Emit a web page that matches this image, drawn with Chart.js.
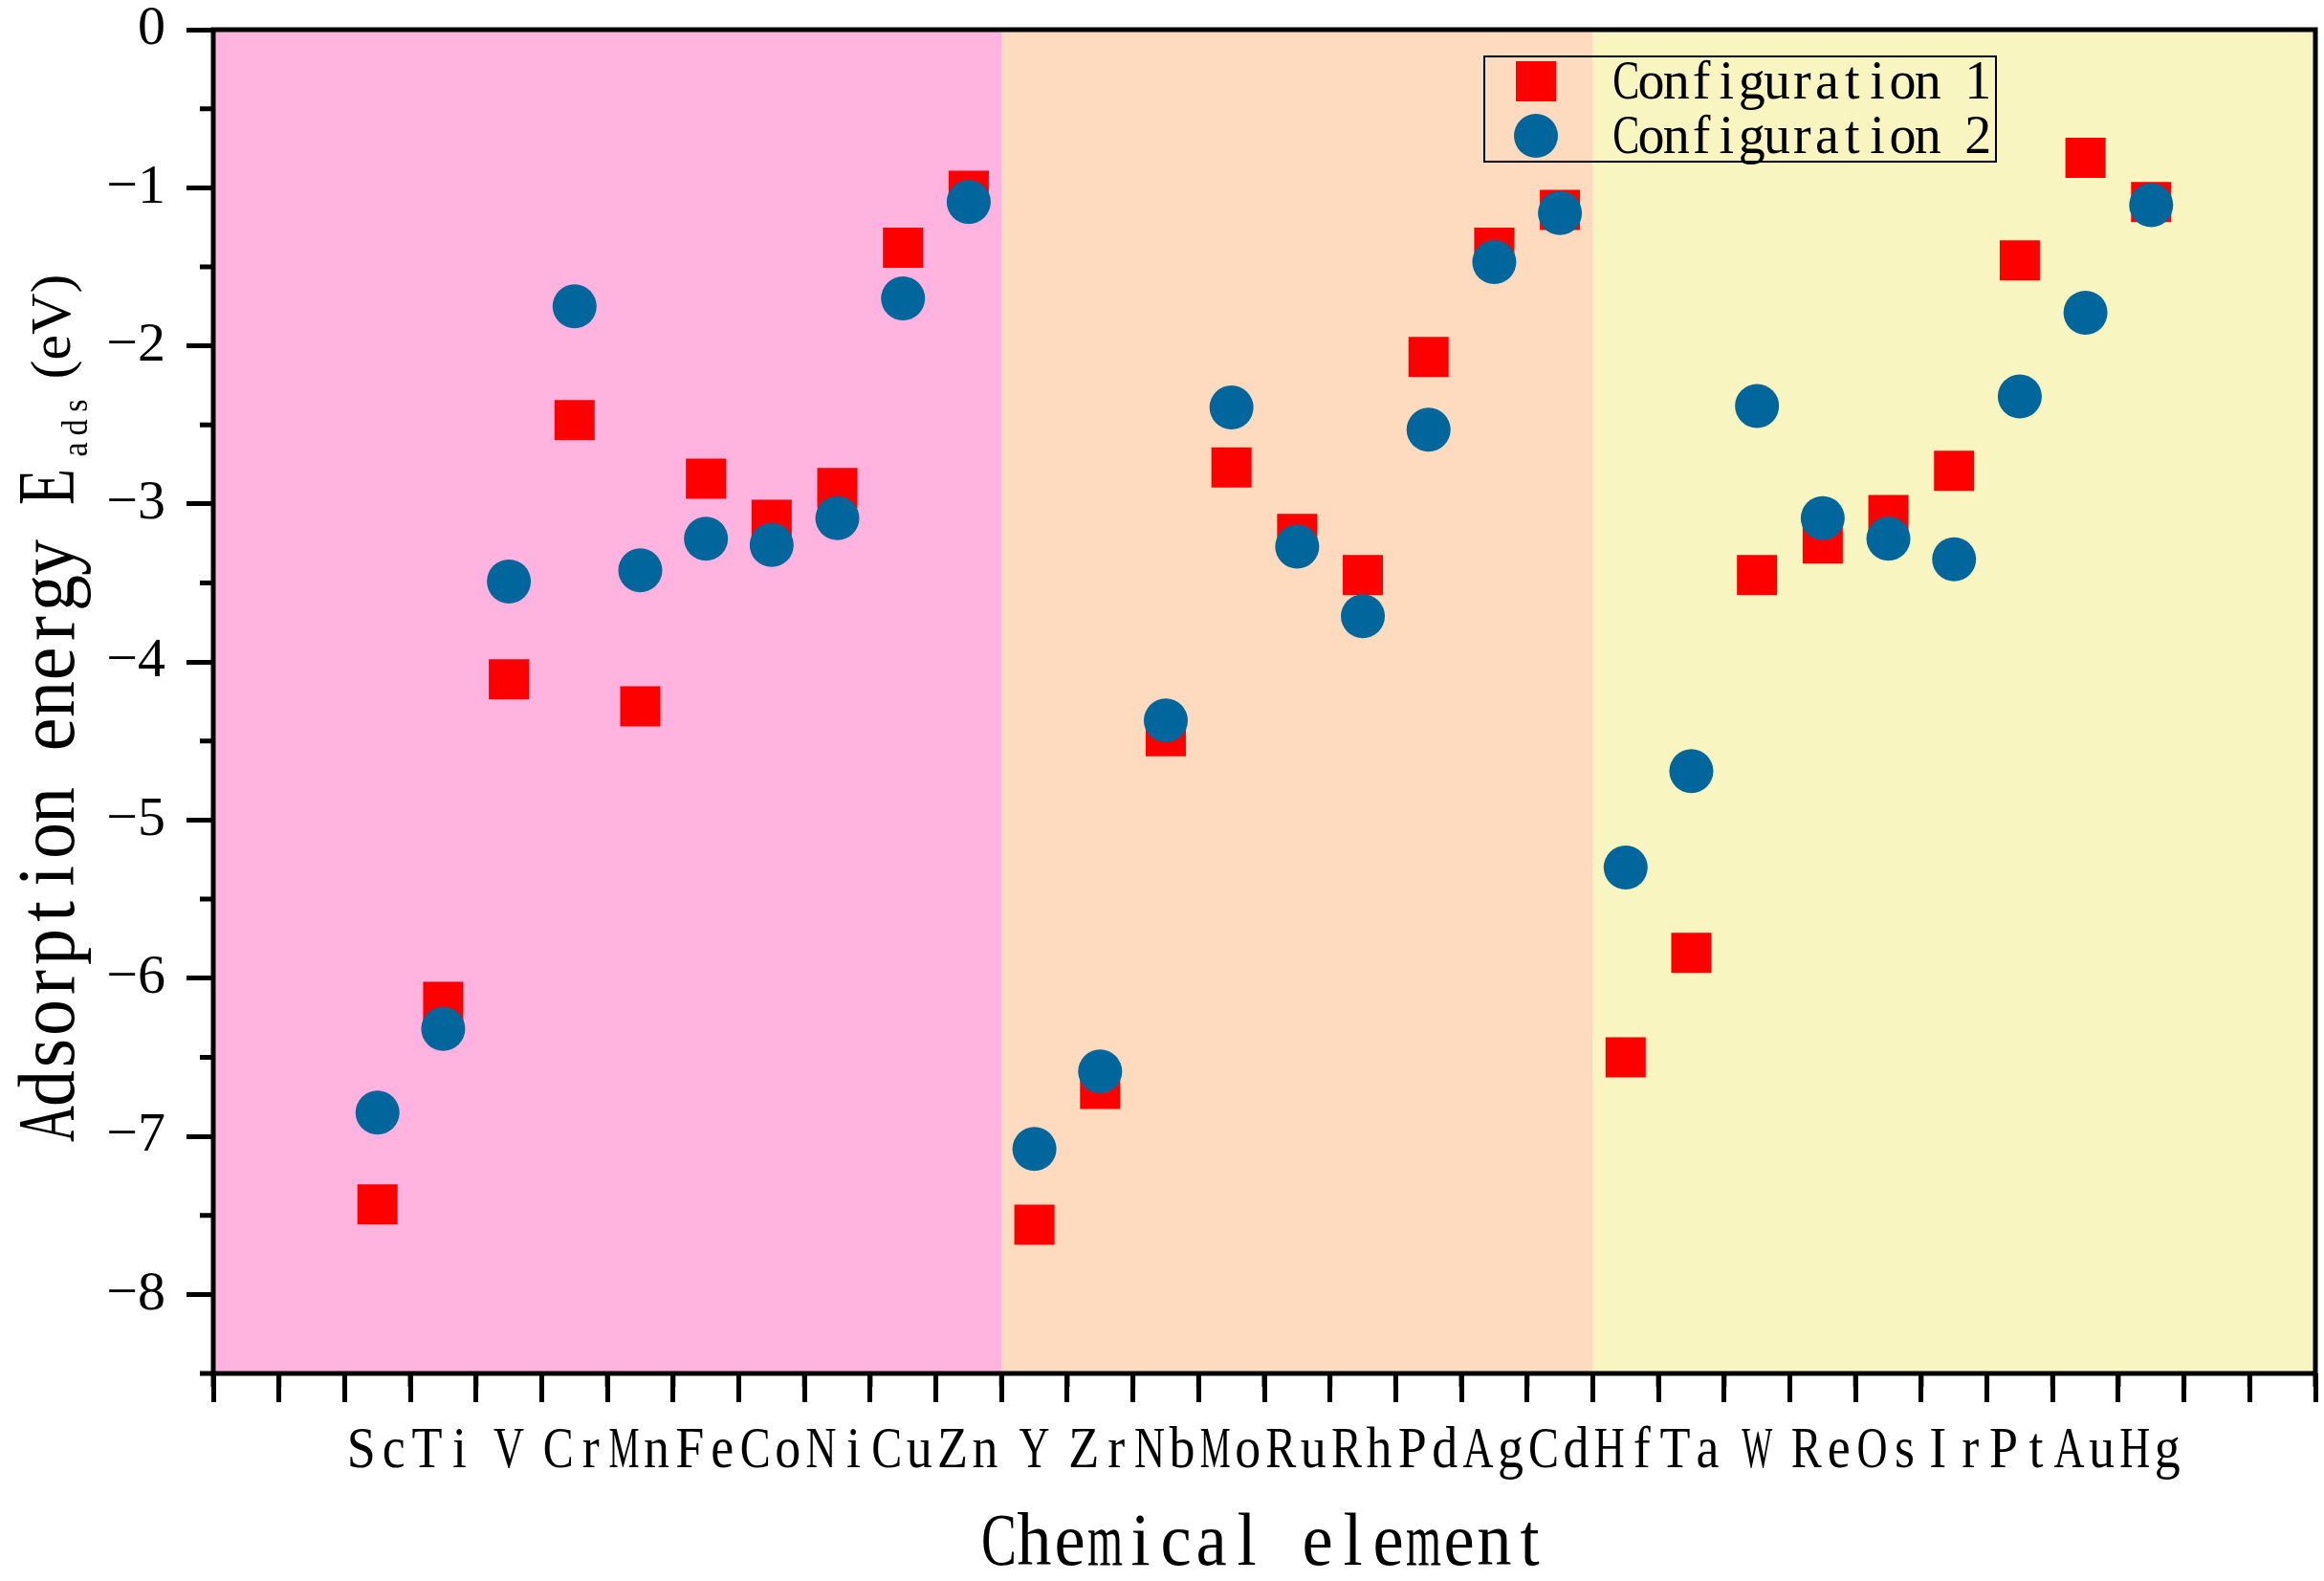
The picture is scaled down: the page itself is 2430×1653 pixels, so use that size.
<!DOCTYPE html>
<html>
<head>
<meta charset="utf-8">
<script src="https://cdn.jsdelivr.net/npm/chart.js@4.4.1/dist/chart.umd.min.js"></script>
<style>
  html, body { margin: 0; padding: 0; background: #fff; }
  #wrap { width: 2430px; height: 1653px; position: relative; }
</style>
</head>
<body>
<div id="wrap"><canvas id="chart"></canvas></div>
<script>
// element symbols along the x axis (index = x value)
const elements = ["Sc", "Ti", "V", "Cr", "Mn", "Fe", "Co", "Ni", "Cu", "Zn",
  "Y", "Zr", "Nb", "Mo", "Ru", "Rh", "Pd", "Ag", "Cd",
  "Hf", "Ta", "W", "Re", "Os", "Ir", "Pt", "Au", "Hg"];

// adsorption energies (eV)
const config1 = [-7.43, -6.15, -4.11, -2.47, -4.28, -2.84, -3.10, -2.90, -1.38, -1.02,
  -7.56, -6.70, -4.47, -2.77, -3.19, -3.45, -2.07, -1.38, -1.14,
  -6.50, -5.84, -3.45, -3.25, -3.07, -2.79, -1.46, -0.81, -1.09];
const config2 = [-6.85, -6.32, -3.49, -1.75, -3.42, -3.22, -3.26, -3.09, -1.70, -1.09,
  -7.08, -6.59, -4.37, -2.39, -3.27, -3.71, -2.53, -1.47, -1.16,
  -5.30, -4.69, -2.38, -3.09, -3.22, -3.35, -2.32, -1.79, -1.11];

const seriesNames = ["Configuration 1", "Configuration 2"];

// background bands (3d / 4d / 5d rows), edges in x units
const bandEdges = [-2.5, 9.5, 18.5, 29.5];
const bandColors = ["#FFB3DE", "#FEDBBE", "#F8F5C1"];

const xRange = [-2.5, 29.5];
const yRange = [-8.5, 0];

const SERIF = "'Liberation Serif', 'Times New Roman', serif";

// draw a string char by char in fixed cells (mimics the half-width CJK font)
function drawCells(ctx, text, x0, y, cell, sxMax, maxW) {
  for (let i = 0; i < text.length; i++) {
    const ch = text[i];
    if (ch === " ") continue;
    const w = ctx.measureText(ch).width;
    const sx = Math.min(sxMax, maxW / w);
    ctx.save();
    ctx.translate(x0 + (i + 0.5) * cell, y);
    ctx.scale(sx, 1);
    ctx.textAlign = "center";
    ctx.fillText(ch, 0, 0);
    ctx.restore();
  }
}

const decorPlugin = {
  id: "decor",
  beforeDatasetsDraw(chart) {
    const { ctx, chartArea: a, scales: { x } } = chart;
    ctx.save();
    for (let i = 0; i < bandColors.length; i++) {
      const x0 = x.getPixelForValue(bandEdges[i]);
      const x1 = x.getPixelForValue(bandEdges[i + 1]);
      ctx.fillStyle = bandColors[i];
      ctx.fillRect(x0, a.top, x1 - x0, a.bottom - a.top);
    }
    ctx.restore();
  },
  afterDraw(chart) {
    const { ctx, chartArea: a, scales: { x, y } } = chart;
    ctx.save();
    ctx.strokeStyle = "#000";
    ctx.lineWidth = 5;

    // minor ticks
    ctx.beginPath();
    for (let v = xRange[0]; v <= xRange[1]; v += 1) {
      const px = x.getPixelForValue(v);
      ctx.moveTo(px, a.bottom);
      ctx.lineTo(px, a.bottom + 14);
    }
    for (let v = yRange[1] - 0.5; v >= yRange[0]; v -= 1) {
      const py = y.getPixelForValue(v);
      ctx.moveTo(a.left, py);
      ctx.lineTo(a.left - 14, py);
    }
    ctx.stroke();

    // frame
    ctx.strokeRect(a.left, a.top, a.right - a.left, a.bottom - a.top);

    ctx.fillStyle = "#000";
    ctx.textBaseline = "alphabetic";

    // x tick labels
    ctx.font = "62px " + SERIF;
    elements.forEach((el, i) => {
      const cx = x.getPixelForValue(i);
      drawCells(ctx, el, cx - el.length * 17, a.bottom + 98, 34, 0.87, 32);
    });

    // x title
    ctx.font = "78px " + SERIF;
    const xt = "Chemical element";
    drawCells(ctx, xt, (a.left + a.right) / 2 - xt.length * 37 / 2, a.bottom + 200, 37, 0.93, 37);

    // y title, rotated, with subscript
    ctx.save();
    ctx.translate(77, (a.top + a.bottom) / 2 + 460);
    ctx.rotate(-Math.PI / 2);
    ctx.font = "84px " + SERIF;
    drawCells(ctx, "Adsorption energy E", 0, 0, 37, 0.93, 38);
    ctx.font = "38px " + SERIF;
    drawCells(ctx, "ads", 712, 14, 23, 0.9, 22);
    ctx.font = "60px " + SERIF;
    ctx.textAlign = "left";
    ctx.fillText("(eV)", 797, -4);
    ctx.restore();

    // legend
    const lx = a.right - 869, ly = a.top + 28;
    ctx.lineWidth = 2;
    ctx.strokeRect(lx, ly, 535, 110);
    const ds = chart.data.datasets;
    const rows = [ly + 26, ly + 83];
    ctx.fillStyle = ds[0].backgroundColor;
    ctx.fillRect(lx + 54 - 21, rows[0] - 21, 42, 42);
    ctx.fillStyle = ds[1].backgroundColor;
    ctx.beginPath();
    ctx.arc(lx + 54, rows[1], 23, 0, Math.PI * 2);
    ctx.fill();
    ctx.fillStyle = "#000";
    ctx.font = "56px " + SERIF;
    drawCells(ctx, ds[0].label, lx + 135, rows[0] + 18, 26.3, 1, 28);
    drawCells(ctx, ds[1].label, lx + 135, rows[1] + 18, 26.3, 1, 28);
    ctx.restore();
  }
};

new Chart(document.getElementById("chart"), {
  type: "scatter",
  data: {
    datasets: [
      {
        label: seriesNames[0],
        data: config1.map((v, i) => ({ x: i, y: v })),
        pointStyle: "rect",
        pointRadius: 29.7,
        backgroundColor: "#FF0000",
        borderWidth: 0,
        order: 2
      },
      {
        label: seriesNames[1],
        data: config2.map((v, i) => ({ x: i, y: v })),
        pointStyle: "circle",
        pointRadius: 23,
        backgroundColor: "#00669C",
        borderWidth: 0,
        order: 1
      }
    ]
  },
  options: {
    responsive: true,
    maintainAspectRatio: false,
    devicePixelRatio: 1,
    animation: false,
    events: [],
    layout: { autoPadding: false, padding: { left: 0, top: 31, right: 9, bottom: 0 } },
    plugins: {
      legend: { display: false },
      tooltip: { enabled: false }
    },
    scales: {
      x: {
        type: "linear",
        min: xRange[0],
        max: xRange[1],
        afterFit: (s) => { s.height = 217; s.paddingLeft = 0; s.paddingRight = 0; },
        border: { display: false },
        grid: { drawOnChartArea: false, tickLength: 30, tickWidth: 5, tickColor: "#000" },
        ticks: { stepSize: 1, includeBounds: false, display: false }
      },
      y: {
        min: yRange[0],
        max: yRange[1],
        afterFit: (s) => { s.width = 223; s.paddingTop = 0; s.paddingBottom = 0; },
        border: { display: false },
        grid: { drawOnChartArea: false, tickLength: 28, tickWidth: 5, tickColor: "#000" },
        ticks: {
          stepSize: 1,
          includeBounds: false,
          padding: 22,
          color: "#000",
          font: { family: SERIF, size: 58, lineHeight: 1 },
          callback: (v) => (v === 0 ? "0" : "\u2212" + Math.abs(v))
        }
      }
    }
  },
  plugins: [decorPlugin]
});
</script>
</body>
</html>
